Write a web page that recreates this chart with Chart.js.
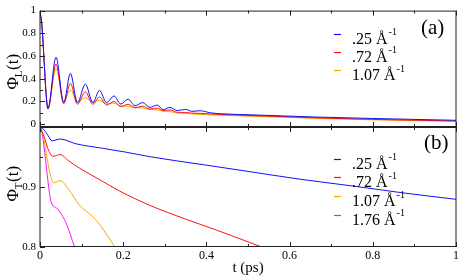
<!DOCTYPE html>
<html><head><meta charset="utf-8">
<script src="https://cdn.jsdelivr.net/npm/chart.js@4/dist/chart.umd.min.js"></script>
<style>
html,body{margin:0;padding:0;background:#fff;overflow:hidden}
#wrap{position:relative;width:463px;height:280px;background:#fff}
canvas{position:absolute;left:0;top:0}
</style></head><body>
<div id="wrap"><canvas id="ca" width="463" height="280"></canvas><canvas id="cb" width="463" height="280"></canvas></div>
<script>
// ---- data ----
const qLabels = ['.25', '.72', '1.07', '1.76'];
const qColors = ['#1010ff', '#ff1010', '#ffa500', '#ff10ff'];

// panel (a): longitudinal, shared time grid (ps)
const tTop = [0, 0.005, 0.01, 0.014, 0.019, 0.0385, 0.057, 0.073, 0.09, 0.109, 0.127, 0.143, 0.16, 0.178, 0.194, 0.212, 0.228, 0.247, 0.264, 0.282, 0.296, 0.3125, 0.33, 0.35, 0.365, 0.385, 0.41, 0.437, 0.5, 0.548, 0.661, 0.8, 1.0];
const phiL025 = [1, 0.85, 0.55, 0.3, 0.134, 0.59, 0.19, 0.447, 0.19, 0.353, 0.19, 0.297, 0.19, 0.248, 0.177, 0.22, 0.162, 0.19, 0.148, 0.168, 0.128, 0.148, 0.12, 0.13, 0.113, 0.118, 0.1, 0.091, 0.083, 0.077, 0.063, 0.05, 0.034];
const phiL072 = [1, 0.85, 0.55, 0.3, 0.136, 0.53, 0.18, 0.36, 0.175, 0.285, 0.175, 0.24, 0.168, 0.2, 0.155, 0.175, 0.145, 0.158, 0.133, 0.142, 0.12, 0.125, 0.105, 0.103, 0.097, 0.095, 0.09, 0.085, 0.077, 0.071, 0.056, 0.042, 0.028];
const phiL107 = [1, 0.85, 0.55, 0.3, 0.14, 0.49, 0.2, 0.3, 0.2, 0.233, 0.195, 0.21, 0.18, 0.185, 0.16, 0.158, 0.145, 0.143, 0.13, 0.125, 0.115, 0.11, 0.1, 0.095, 0.09, 0.086, 0.082, 0.078, 0.07, 0.065, 0.051, 0.038, 0.025];

// panel (b): transverse
const tT025 = [0, 0.01, 0.02, 0.029, 0.048, 0.0865, 0.15, 0.207, 0.264, 0.4, 0.5, 0.625, 0.75, 0.875, 1.0];
const phiT025 = [1, 0.995, 0.985, 0.977, 0.98, 0.972, 0.9646, 0.958, 0.9505, 0.9364, 0.926, 0.913, 0.9018, 0.89, 0.8795];
const tT072 = [0, 0.01, 0.019, 0.031, 0.048, 0.07, 0.096, 0.144, 0.192, 0.264, 0.35, 0.425, 0.533];
const phiT072 = [1, 0.984, 0.964, 0.951, 0.954, 0.943, 0.931, 0.912, 0.893, 0.8695, 0.8465, 0.828, 0.8];
const tT107 = [0, 0.008, 0.015, 0.024, 0.032, 0.048, 0.07, 0.0945, 0.127, 0.144, 0.18];
const phiT107 = [1, 0.985, 0.956, 0.923, 0.907, 0.9105, 0.895, 0.87, 0.8505, 0.837, 0.8];
const tT176 = [0, 0.005, 0.01, 0.015, 0.02, 0.025, 0.03, 0.04, 0.048, 0.062, 0.083];
const phiT176 = [1, 0.99, 0.965, 0.935, 0.905, 0.88, 0.87, 0.865, 0.858, 0.841, 0.8];

// ticks
const xTicks = [0, 0.2, 0.4, 0.6, 0.8, 1];
const xMinor = [0.1, 0.3, 0.5, 0.7, 0.9];
const yTicksA = [0, 0.2, 0.4, 0.6, 0.8, 1];
const yMinorA = [0.1, 0.3, 0.5, 0.7, 0.9];
const yTicksB = [0.8, 0.9];
const yMarksB = [0.8, 0.9, 1.0];
const yMinorB = [0.85, 0.95];

// ---- drawing ----
const SERIF = '"Liberation Serif", "DejaVu Serif", serif';
Chart.defaults.font.family = SERIF;

const pair = (ts, vs) => ts.map((t, i) => ({x: t, y: vs[i]}));
const ds = (i, ts, vs) => ({label: qLabels[i] + ' Å⁻¹', data: pair(ts, vs), borderColor: qColors[i], borderWidth: 1, pointRadius: 0, fill: false, cubicInterpolationMode: 'monotone'});

const panelPlugin = {
  id: 'panel',
  afterDatasetsDraw(chart, args, o) {
    const {ctx, chartArea: a} = chart;
    const xs = chart.scales.x, ys = chart.scales.y;
    ctx.save();
    // frame
    ctx.strokeStyle = '#222'; ctx.lineWidth = 1;
    ctx.strokeRect(a.left, a.top + 0.5, a.right - a.left, a.bottom - a.top - 1);
    // tick marks
    ctx.beginPath();
    const xm = (vals, len) => vals.forEach(v => {
      const px = Math.round(xs.getPixelForValue(v)) + 0.5;
      ctx.moveTo(px, a.top); ctx.lineTo(px, a.top + len);
      ctx.moveTo(px, a.bottom); ctx.lineTo(px, a.bottom - len);
    });
    const ym = (vals, len) => vals.forEach(v => {
      const py = Math.round(ys.getPixelForValue(v)) + 0.5;
      ctx.moveTo(a.left, py); ctx.lineTo(a.left + len, py);
    });
    xm(xTicks, 5); xm(xMinor, 3);
    ym(o.yMajor, 5); ym(o.yMinor, 3);
    ctx.stroke();
    // y title  Φ_sub(t)
    ctx.fillStyle = '#000';
    ctx.translate(o.titleX, o.titleY);
    ctx.rotate(-Math.PI / 2);
    ctx.textBaseline = 'alphabetic';
    ctx.font = '17px ' + SERIF; const w1 = ctx.measureText('Φ').width; const w3 = ctx.measureText('(t)').width;
    ctx.font = '11px ' + SERIF; const w2 = ctx.measureText(o.sub).width;
    let x0 = -(w1 + w2 + w3) / 2;
    ctx.font = '17px ' + SERIF; ctx.fillText('Φ', x0, 6);
    ctx.font = '11px ' + SERIF; ctx.fillText(o.sub, x0 + w1, 10);
    ctx.font = '17px ' + SERIF; ctx.fillText('(t)', x0 + w1 + w2 + 0.5, 6);
    ctx.setTransform(1, 0, 0, 1, 0, 0);
    // legend
    chart.data.datasets.forEach((d, i) => {
      const y = o.legY + i * o.legDy;
      ctx.strokeStyle = qColors[i]; ctx.lineWidth = 1.2;
      ctx.beginPath(); ctx.moveTo(o.legX, Math.round(y) + 0.5); ctx.lineTo(o.legX + 7, Math.round(y) + 0.5); ctx.stroke();
      ctx.fillStyle = '#000';
      ctx.font = '16px ' + SERIF;
      const main = qLabels[i] + ' Å';
      ctx.fillText(main, o.legTextX, y + 10);
      const mw = ctx.measureText(main).width;
      ctx.font = '10px ' + SERIF;
      ctx.fillText('-1', o.legTextX + mw + 1, y + 1.5);
    });
    // panel tag
    ctx.font = '21px ' + SERIF;
    ctx.fillText(o.tag, o.tagX, o.tagY);
    ctx.restore();
  }
};

function yScale(min, max, labels) {
  return {
    type: 'linear', min, max,
    grid: {display: false, drawTicks: false}, border: {display: false},
    afterBuildTicks: s => { s.ticks = labels.map(v => ({value: v})); },
    afterFit: s => { s.width = 40; },
    ticks: {font: {family: SERIF, size: 11}, color: '#000', padding: 4, callback: v => String(v)}
  };
}

new Chart(document.getElementById('ca'), {
  type: 'line',
  data: {datasets: [ds(0, tTop, phiL025), ds(1, tTop, phiL072), ds(2, tTop, phiL107)]},
  options: {
    responsive: false, animation: false, devicePixelRatio: 1,
    layout: {padding: {left: 0, top: 7, right: 7, bottom: 153}},
    plugins: {legend: {display: false}, tooltip: {enabled: false},
      panel: {yMajor: yTicksA, yMinor: yMinorA, sub: 'L', titleX: 12, titleY: 72,
              legX: 334, legTextX: 352, legY: 33.5, legDy: 18.4, tag: '(a)', tagX: 421, tagY: 33.5}},
    scales: {
      x: {type: 'linear', min: 0, max: 1, display: false},
      y: yScale(-0.025, 1, yTicksA)
    }
  },
  plugins: [panelPlugin]
});

new Chart(document.getElementById('cb'), {
  type: 'line',
  data: {datasets: [ds(0, tT025, phiT025), ds(1, tT072, phiT072), ds(2, tT107, phiT107), ds(3, tT176, phiT176)]},
  options: {
    responsive: false, animation: false, devicePixelRatio: 1,
    layout: {padding: {left: 0, top: 127, right: 7, bottom: 0}},
    plugins: {legend: {display: false}, tooltip: {enabled: false},
      panel: {yMajor: yMarksB, yMinor: yMinorB, sub: 'T', titleX: 12, titleY: 184,
              legX: 334, legTextX: 352, legY: 158.5, legDy: 18.8, tag: '(b)', tagX: 424, tagY: 148.5}},
    scales: {
      x: {type: 'linear', min: 0, max: 1,
          grid: {display: false, drawTicks: false}, border: {display: false},
          afterBuildTicks: s => { s.ticks = xTicks.map(v => ({value: v})); },
          afterFit: s => { s.height = 33; },
          ticks: {font: {family: SERIF, size: 12}, color: '#000', padding: 2, maxRotation: 0, callback: v => String(v)},
          title: {display: true, text: 't (ps)', color: '#000', font: {family: SERIF, size: 15}, padding: {top: 0, bottom: 3}}},
      y: yScale(0.8, 1, yTicksB)
    }
  },
  plugins: [panelPlugin]
});
</script>
</body></html>
